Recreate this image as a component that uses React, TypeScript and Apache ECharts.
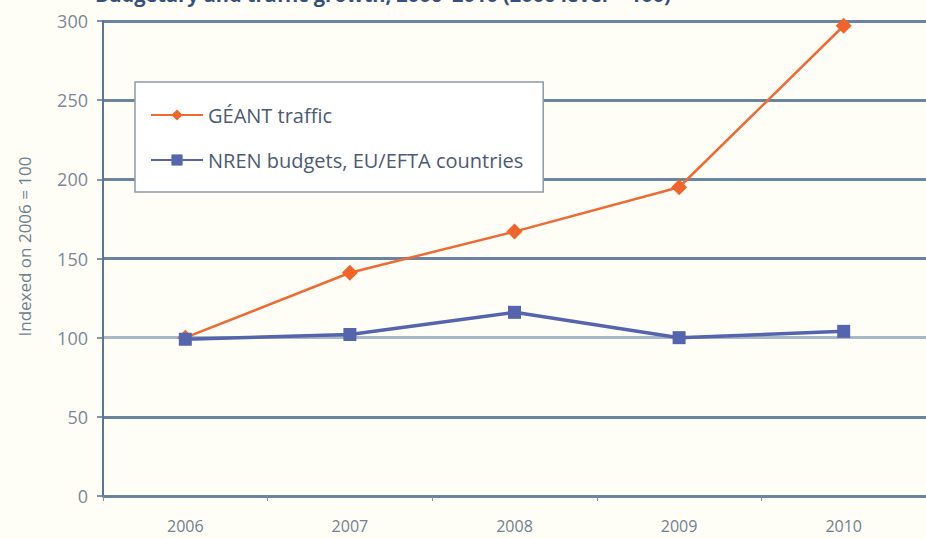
import React, { useEffect, useRef } from "react";
import * as echarts from "echarts";

const years = ["2006", "2007", "2008", "2009", "2010"];
const geantTraffic = [100, 141, 167, 195, 297];
const nrenBudgets = [99, 102, 116, 100, 104];
const titleText = "Budgetary and traffic growth, 2006–2010 (2006 level = 100)";
const yAxisName = "Indexed on 2006 = 100";

export default function App() {
  const ref = useRef<HTMLDivElement>(null);
  useEffect(() => {
    document.body.style.margin = "0";
    const chart = echarts.init(ref.current!, null, { renderer: "svg" });
    const font = "'Open Sans', 'Noto Sans', sans-serif";
    chart.setOption({
      animation: false,
      backgroundColor: "#fffef6",
      textStyle: { fontFamily: font },
      graphic: [
        {
          type: "text",
          x: 95,
          y: 4,
          style: {
            text: titleText,
            fontFamily: font,
            fontWeight: "bold",
            fontSize: 20,
            fill: "#34507e",
            verticalAlign: "bottom",
          },
        },
      ],
      legend: {
        orient: "vertical",
        left: 135,
        top: 82,
        padding: [23, 20, 22, 15],
        itemGap: 25,
        itemWidth: 52,
        itemHeight: 14,
        backgroundColor: "#ffffff",
        borderColor: "#8e9aa8",
        borderWidth: 1.5,
        textStyle: { color: "#4b5a72", fontSize: 20, fontFamily: font },
        data: ["GÉANT traffic", "NREN budgets, EU/EFTA countries"],
      },
      grid: { left: 103, top: 21, width: 831, bottom: 43, containLabel: false },
      xAxis: {
        type: "category",
        data: years,
        boundaryGap: true,
        axisLine: { show: true, lineStyle: { color: "#6a84a0", width: 2.5 } },
        axisTick: { show: true, length: 5, lineStyle: { color: "#7f8fa0", width: 1 } },
        axisLabel: { color: "#6f7f8f", fontSize: 16, margin: 22 },
        splitLine: { show: false },
      },
      yAxis: {
        type: "value",
        min: 0,
        max: 300,
        interval: 50,
        name: yAxisName,
        nameLocation: "middle",
        nameGap: 70,
        nameTextStyle: { color: "#6f7f8f", fontSize: 17, padding: [0, 0, 0, 24] },
        axisLine: { show: true, lineStyle: { color: "#5a7593", width: 2 } },
        axisTick: { show: true, length: 6, lineStyle: { color: "#5a7593", width: 1.5 } },
        axisLabel: { color: "#7a8898", fontSize: 18, margin: 15 },
        splitLine: {
          show: true,
          lineStyle: {
            color: ["#6a84a0", "#6a84a0", "#a9b8c8", "#6a84a0", "#6a84a0", "#6a84a0", "#6a84a0"],
            width: 3,
          },
        },
      },
      series: [
        {
          name: "GÉANT traffic",
          type: "line",
          data: geantTraffic,
          symbol: "diamond",
          symbolSize: 16,
          itemStyle: { color: "#f0642a" },
          lineStyle: { color: "#ee6a33", width: 2.5 },
          z: 3,
        },
        {
          name: "NREN budgets, EU/EFTA countries",
          type: "line",
          data: nrenBudgets,
          symbol: "rect",
          symbolSize: 13,
          itemStyle: { color: "#5565ad" },
          lineStyle: { color: "#5565ad", width: 3.5 },
          z: 4,
        },
      ],
    });
    return () => chart.dispose();
  }, []);
  return <div ref={ref} style={{ width: 926, height: 539 }} />;
}
